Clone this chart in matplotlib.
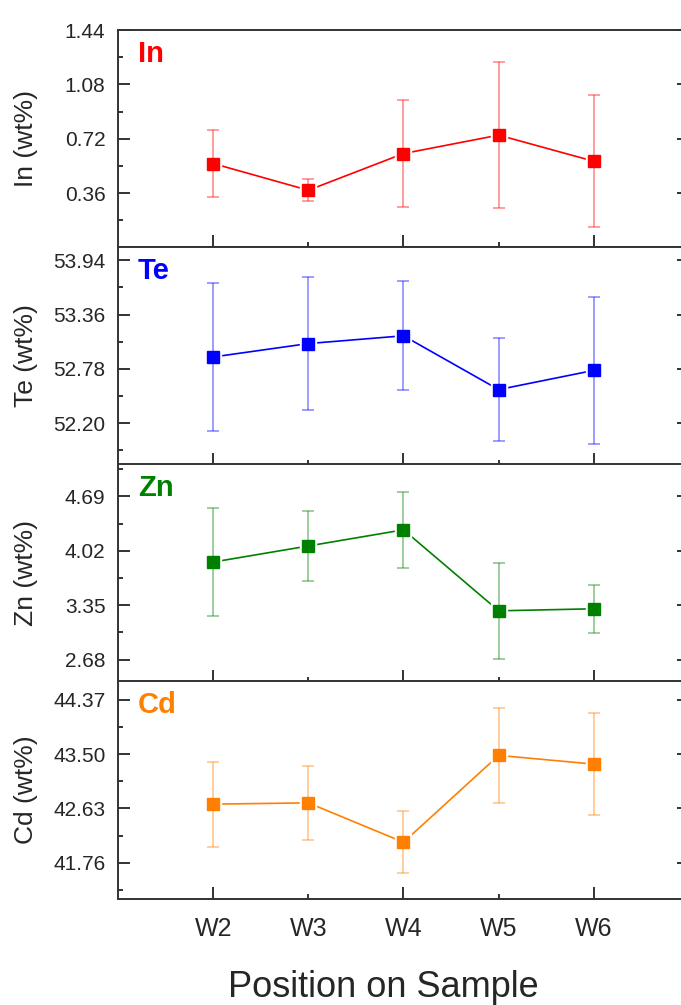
import matplotlib
matplotlib.use("Agg")
import matplotlib.pyplot as plt
from matplotlib.ticker import FixedLocator, FormatStrFormatter

plt.rcParams['font.family'] = ['Liberation Sans', 'DejaVu Sans']

positions = ['W2', 'W3', 'W4', 'W5', 'W6']

in_vals = [0.556, 0.379, 0.622, 0.744, 0.571]
in_err = [0.220, 0.072, 0.352, 0.485, 0.437]

te_vals = [52.907, 53.050, 53.133, 52.559, 52.764]
te_err = [0.790, 0.712, 0.580, 0.547, 0.784]

zn_vals = [3.882, 4.080, 4.279, 3.281, 3.306]
zn_err = [0.665, 0.431, 0.470, 0.590, 0.297]

cd_vals = [42.70, 42.72, 42.09, 43.48, 43.34]
cd_err = [0.68, 0.59, 0.50, 0.76, 0.82]

elements = ['In', 'Te', 'Zn', 'Cd']
colors = ['#FF0000', '#0000FF', '#008000', '#FF8000']
values = [in_vals, te_vals, zn_vals, cd_vals]
errors = [in_err, te_err, zn_err, cd_err]
y_ticks = [
    [0.36, 0.72, 1.08, 1.44],
    [52.20, 52.78, 53.36, 53.94],
    [2.68, 3.35, 4.02, 4.69],
    [41.76, 42.63, 43.50, 44.37],
]
y_limits = [(0.0, 1.44), (51.76, 54.08), (2.41, 5.09), (41.19, 44.67)]

W, H = 681, 1005
fig = plt.figure(figsize=(W / 100, H / 100), dpi=100)

spine_col = '#333333'
text_col = '#262626'
left_px, right_px = 118, 689
panel_tops = [30, 247, 464, 681]
panel_h = 217.5

x = list(range(2, 2 + len(positions)))

for i, (name, col, vals, errs, ticks, lims) in enumerate(
        zip(elements, colors, values, errors, y_ticks, y_limits)):
    top = panel_tops[i]
    ax = fig.add_axes([left_px / W, 1 - (top + panel_h) / H,
                       (right_px - left_px) / W, panel_h / H])

    # connecting line, white halo behind markers, error bars, markers
    ax.plot(x, vals, color=col, lw=1.2, zorder=2)
    ax.plot(x, vals, ls='none', marker='s', ms=11, color='white',
            mec='white', zorder=3)
    ax.errorbar(x, vals, yerr=errs, fmt='none', ecolor=col, alpha=0.45,
                elinewidth=1.2, capsize=4.3, capthick=1.2, zorder=4)
    ax.plot(x, vals, ls='none', marker='s', ms=8.5, color=col, mec=col,
            zorder=5)

    ax.set_xlim(1, 7)
    ax.set_ylim(*lims)

    step = ticks[1] - ticks[0]
    ax.yaxis.set_major_locator(FixedLocator(ticks))
    minors = [t - step / 2 for t in ticks] + [ticks[-1] + step / 2]
    ax.yaxis.set_minor_locator(FixedLocator(minors))
    ax.yaxis.set_major_formatter(FormatStrFormatter('%.2f'))

    ax.set_xticks(x)
    if i == 3:
        ax.set_xticklabels(positions)
    else:
        ax.set_xticklabels([])

    ax.tick_params(axis='y', which='major', direction='in', length=8.6,
                   width=1.4, color=spine_col, left=True, right=True,
                   labelsize=15, labelcolor=text_col, pad=9)
    ax.tick_params(axis='y', which='minor', direction='in', length=3.6,
                   width=1.4, color=spine_col, left=True, right=True)
    ax.tick_params(axis='x', which='major', direction='in', length=8.6,
                   width=1.4, color=spine_col, top=False, bottom=True,
                   labelsize=18, labelcolor=text_col, pad=13)
    # shorter ticks at the odd positions
    for k, t in enumerate(ax.xaxis.get_major_ticks()):
        if k % 2 == 1:
            t.tick1line.set_markersize(3.6)

    for s in ax.spines.values():
        s.set_color(spine_col)
        s.set_linewidth(1.4)

    ax.text(0.035, 0.855, name, transform=ax.transAxes, color=col,
            fontsize=21, fontweight='bold', ha='left', va='baseline')
    ax.text((26 - left_px) / (right_px - left_px), 0.5, f'{name} (wt%)',
            transform=ax.transAxes, rotation=90, ha='center', va='center',
            fontsize=19, color=text_col)

fig.text(383 / W, 1 - 987 / H, 'Position on Sample', ha='center',
         va='center', fontsize=26, color=text_col)

fig.savefig('out.png', dpi=100)
